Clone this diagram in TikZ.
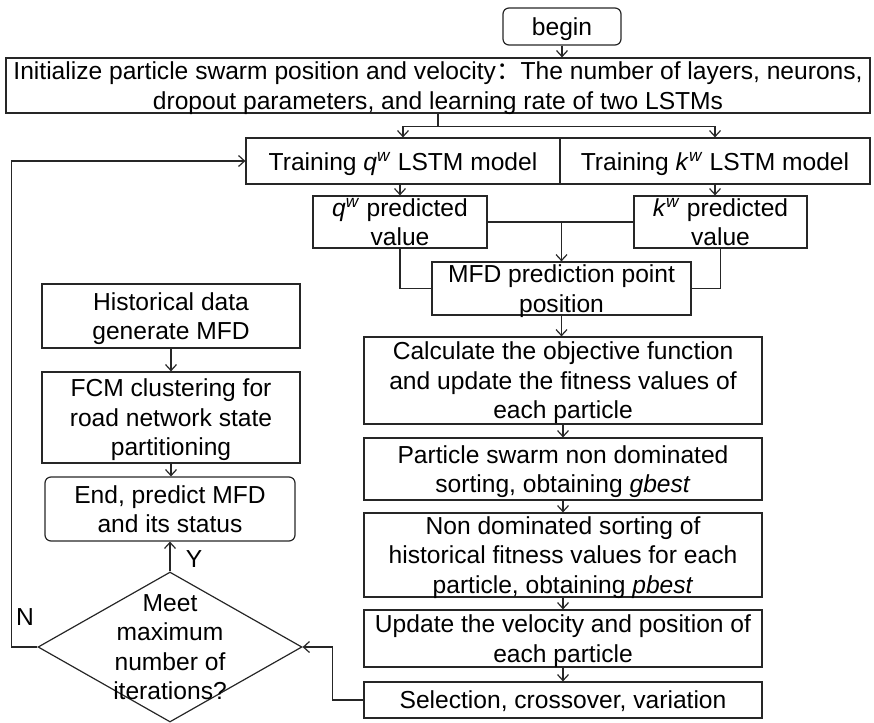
\documentclass[tikz,border=0pt]{standalone}
\usepackage{fontspec}
\setmainfont{Liberation Sans}
\newfontfamily\cjk{Noto Sans CJK SC}
\usetikzlibrary{shapes.geometric,arrows.meta}
\begin{document}
\begin{tikzpicture}[x=1pt,y=-1pt,
  every node/.style={font=\fontsize{24.6}{29.5}\selectfont, text=black},
  box/.style={draw=black!85, line width=1.2pt, inner sep=0pt, align=center, text depth=0pt},
  rbox/.style={box, rounded corners=6pt},
  conn/.style={draw=black!85, line width=1.2pt},
  arr/.style={conn, -{Straight Barb[length=6pt,width=11pt]}}
]
\useasboundingbox (0,0) rectangle (874,722);

% top
\node[rbox, minimum width=118pt, minimum height=37pt] (begin) at (562,26.5) {begin};
\node[box, minimum width=864pt, minimum height=55pt] (init) at (438,85.5)
  {Initialize particle swarm position and velocity{\cjk ：}The number of layers, neurons,\\dropout parameters, and learning rate of two LSTMs};
\node[box, minimum width=314pt, minimum height=46pt] (tq) at (403,161)
  {Training \textit{q}\textsuperscript{\textit{w}} LSTM model};
\node[box, minimum width=310pt, minimum height=46pt] (tk) at (715,161)
  {Training \textit{k}\textsuperscript{\textit{w}} LSTM model};
\node[box, minimum width=174pt, minimum height=52pt] (qp) at (400,222)
  {\textit{q}\textsuperscript{\textit{w}} predicted\\value};
\node[box, minimum width=173pt, minimum height=52pt] (kp) at (720.5,222)
  {\textit{k}\textsuperscript{\textit{w}} predicted\\value};
\node[box, minimum width=259pt, minimum height=53pt] (mfd) at (561.5,288.5)
  {MFD prediction point\\position};

% right column
\node[box, minimum width=398pt, minimum height=87pt] (calc) at (563,380.5)
  {Calculate the objective function\\and update the fitness values of\\each particle};
\node[box, minimum width=398pt, minimum height=62pt] (ps) at (563,469)
  {Particle swarm non dominated\\sorting, obtaining \textit{gbest}};
\node[box, minimum width=398pt, minimum height=84pt] (nd) at (563,555)
  {Non dominated sorting of\\historical fitness values for each\\particle, obtaining \textit{pbest}};
\node[box, minimum width=398pt, minimum height=57pt] (upd) at (563,638.5)
  {Update the velocity and position of\\each particle};
\node[box, minimum width=398pt, minimum height=36pt] (sel) at (563,700)
  {Selection, crossover, variation};

% left column
\node[box, minimum width=258pt, minimum height=64pt] (hist) at (171,316)
  {Historical data\\generate MFD};
\node[box, minimum width=258pt, minimum height=91pt] (fcm) at (171,417.5)
  {FCM clustering for\\road network state\\partitioning};
\node[rbox, minimum width=250pt, minimum height=64pt] (end) at (170,509)
  {End, predict MFD\\and its status};
\node[diamond, draw=black!85, line width=1.2pt, inner sep=0pt,
      minimum width=264pt, minimum height=150pt] (dec) at (170,647) {};
\node[align=center] (dect) at (dec.center) {Meet\\maximum\\number of\\iterations?};

% connectors
\draw[arr] (begin.south) -- (begin.south |- init.north);
\draw[conn] (init.south) -- ++(0,13) coordinate (sp);
\draw[arr] (sp) -| (tq.north);
\draw[arr] (sp) -| (tk.north);
\draw[arr] (qp.north |- tq.south) -- (qp.north);
\draw[arr] (tk.south) -- (tk.south |- kp.north);
\draw[conn] (qp.east) -- (kp.west);
\draw[arr] (mfd.north |- qp.east) -- (mfd.north);
\draw[conn] (qp.south) |- (mfd.west);
\draw[conn] (kp.south) |- (mfd.east);
\draw[arr] (mfd.south) -- (mfd.south |- calc.north);
\draw[arr] (calc) -- (ps);
\draw[arr] (ps) -- (nd);
\draw[arr] (nd) -- (upd);
\draw[arr] (upd) -- (sel);
\draw[arr] (sel.west) -- ++(-31,0) |- (dec.east);
\draw[arr] (hist) -- (fcm);
\draw[arr] (fcm) -- (end.north -| fcm.south);
\draw[arr] (dec.north) -- (end.south) node[pos=0.4, right=12pt] {Y};
\draw[arr] (dec.west) -- ++(-26,0) coordinate (nc) |- (tq.west);
\node (nlab) at (25,617) {N};
\end{tikzpicture}
\end{document}
